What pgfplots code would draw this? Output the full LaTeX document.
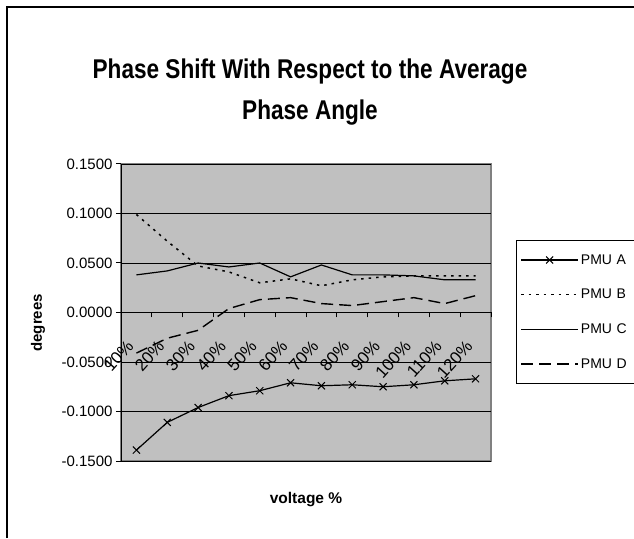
\documentclass[border=0pt]{standalone}
\usepackage{fontspec}
\setmainfont{Liberation Sans}
\usepackage{pgfplots}
\pgfplotsset{compat=1.18}
\definecolor{plotgray}{HTML}{C0C0C0}
\definecolor{edgegray}{HTML}{808080}
\begin{document}
\begin{tikzpicture}[x=1pt,y=1pt]
\useasboundingbox (0,0) rectangle (634,538);
\draw[line width=1.2pt] (7,0) -- (7,531) -- (634,531);
\node[font=\fontsize{22.6}{27}\selectfont\bfseries, yscale=1.2] at (310,466) {Phase Shift With Respect to the Average};
\node[font=\fontsize{22.6}{27}\selectfont\bfseries, yscale=1.2] at (310,425) {Phase Angle};
\begin{axis}[
  at={(121pt,77pt)}, anchor=south west,
  scale only axis, width=370pt, height=297pt,
  xmin=0.5, xmax=12.5, ymin=-0.15, ymax=0.15,
  axis x line*=middle, axis y line*=left,
  axis background/.style={fill=plotgray, draw=edgegray, line width=1.2pt},
  axis line style={black, line width=1pt},
  ytick={-0.15,-0.1,-0.05,0,0.05,0.1,0.15},
  minor ytick={-0.15,-0.1,-0.05,0,0.05,0.1,0.15},
  yticklabels={-0.1500,-0.1000,-0.0500,0.0000,0.0500,0.1000,0.1500},
  xtick={1,2,3,4,5,6,7,8,9,10,11,12},
  minor xtick={0.5,1.5,2.5,3.5,4.5,5.5,6.5,7.5,8.5,9.5,10.5,11.5,12.5},
  xticklabels={10\%,20\%,30\%,40\%,50\%,60\%,70\%,80\%,90\%,100\%,110\%,120\%},
  ymajorgrids, grid style={black, line width=0.8pt},
  tick align=outside, major tick length=0pt, minor tick length=5pt,
  tick style={black, line width=1pt},
  yticklabel style={font=\fontsize{15}{18}\selectfont, xshift=-5pt},
  xticklabel style={font=\fontsize{17}{18}\selectfont, xshift=-4pt, yshift=-28pt, rotate=48, anchor=east},
  ylabel={degrees},
  ylabel style={font=\fontsize{15}{18}\selectfont\bfseries, at={(axis description cs:-0.224,0.465)}, anchor=center},
  xlabel={voltage \%},
  xlabel style={font=\fontsize{15.5}{18}\selectfont\bfseries, at={(axis description cs:0.5,-0.131)}, anchor=center},
  legend style={at={(axis description cs:1.0676,0.744)}, anchor=north west, draw=black, line width=0.8pt, fill=white,
    font=\fontsize{14}{16}\selectfont, row sep=19.5pt, inner xsep=4pt, inner ysep=12pt,
    nodes={text width=52pt, align=left}},
  legend cell align=left,
  legend image code/.code={\draw[#1, mark repeat=2, mark phase=2] plot coordinates {(0pt,0pt) (28.5pt,0pt) (57pt,0pt)};},
]
\addplot[black, line width=1.2pt, mark=x, mark size=5pt, mark options={solid, line width=1pt}] coordinates {
(1,-0.139) (2,-0.111) (3,-0.096) (4,-0.084) (5,-0.079) (6,-0.071) (7,-0.074) (8,-0.073) (9,-0.075) (10,-0.073) (11,-0.069) (12,-0.067)};
\addlegendentry{PMU A}
\addplot[black, line width=1.5pt, dash pattern=on 2.5pt off 5pt] coordinates {
(1,0.099) (2,0.072) (3,0.047) (4,0.041) (5,0.030) (6,0.034) (7,0.027) (8,0.033) (9,0.036) (10,0.037) (11,0.037) (12,0.037)};
\addlegendentry{PMU B}
\addplot[black, line width=1.2pt] coordinates {
(1,0.038) (2,0.042) (3,0.050) (4,0.046) (5,0.050) (6,0.036) (7,0.048) (8,0.038) (9,0.038) (10,0.037) (11,0.033) (12,0.033)};
\addlegendentry{PMU C}
\addplot[black, line width=1.4pt, dash pattern=on 12pt off 6pt] coordinates {
(1,-0.041) (2,-0.026) (3,-0.018) (4,0.004) (5,0.013) (6,0.015) (7,0.009) (8,0.007) (9,0.011) (10,0.015) (11,0.009) (12,0.017)};
\addlegendentry{PMU D}
\end{axis}
\end{tikzpicture}
\end{document}
